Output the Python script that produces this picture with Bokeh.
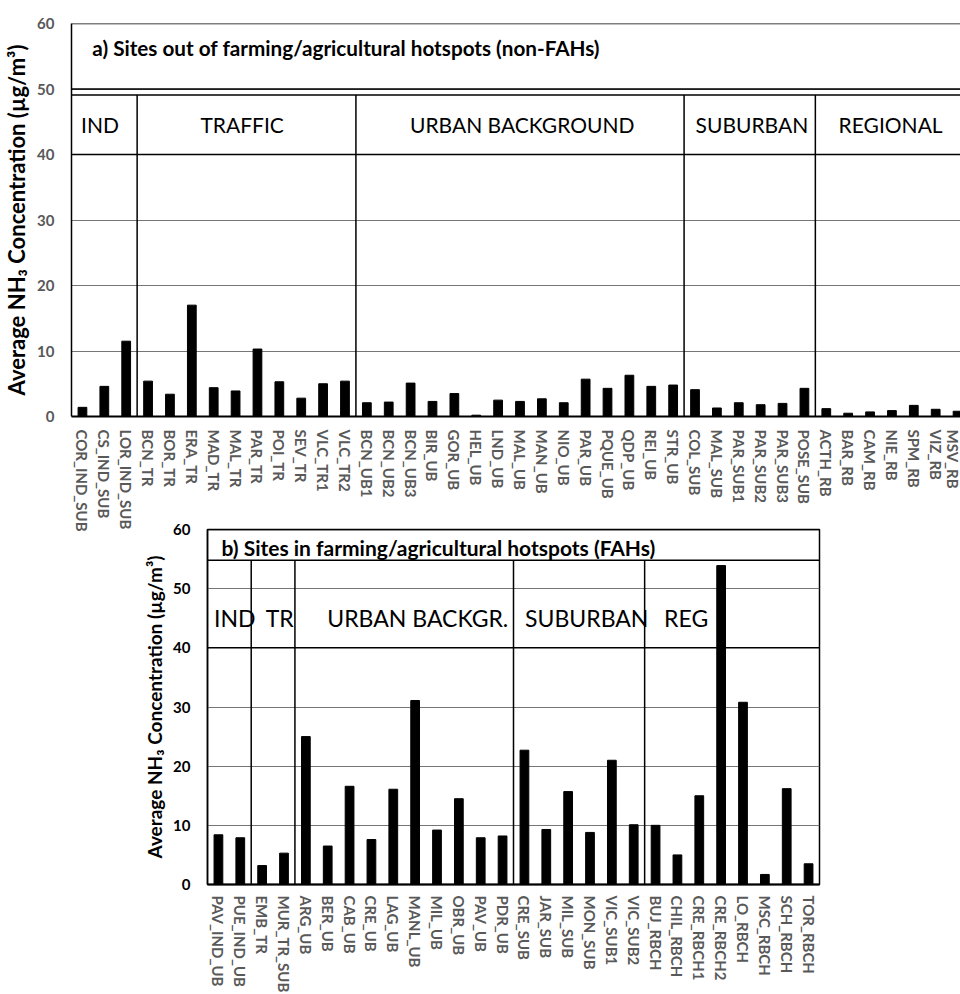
from bokeh.plotting import figure
from bokeh.models import Range1d, FixedTicker, Span, ColumnDataSource
from bokeh.core.properties import value
from bokeh.embed import file_html
from bokeh.resources import INLINE

# ---------------- data ----------------
title_a = "a) Sites out of farming/agricultural hotspots (non-FAHs)"
groups_a = ["IND", "TRAFFIC", "URBAN BACKGROUND", "SUBURBAN", "REGIONAL"]
group_sizes_a = [3, 10, 15, 6, 7]
sites_a = ["COR_IND_SUB", "CS_IND_SUB", "LOR_IND_SUB",
           "BCN_TR", "BOR_TR", "ERA_TR", "MAD_TR", "MAL_TR", "PAR_TR", "POI_TR",
           "SEV_TR", "VLC_TR1", "VLC_TR2",
           "BCN_UB1", "BCN_UB2", "BCN_UB3", "BIR_UB", "GOR_UB", "HEL_UB", "LND_UB",
           "MAL_UB", "MAN_UB", "NIO_UB", "PAR_UB", "PQUE_UB", "QDP_UB", "REI_UB", "STR_UB",
           "COL_SUB", "MAL_SUB", "PAR_SUB1", "PAR_SUB2", "PAR_SUB3", "POSE_SUB",
           "ACTH_RB", "BAR_RB", "CAM_RB", "NIE_RB", "SPM_RB", "VIZ_RB", "MSV_RB"]
values_a = [1.4, 4.6, 11.5,
            5.4, 3.4, 17.0, 4.4, 3.9, 10.3, 5.3, 2.8, 5.0, 5.4,
            2.1, 2.2, 5.1, 2.3, 3.5, 0.2, 2.5, 2.3, 2.7, 2.1, 5.7, 4.3, 6.3, 4.6, 4.8,
            4.1, 1.3, 2.1, 1.8, 2.0, 4.3,
            1.2, 0.5, 0.7, 0.9, 1.7, 1.1, 0.8]

title_b = "b) Sites in farming/agricultural hotspots (FAHs)"
groups_b = ["IND", "TR", "URBAN BACKGR.", "SUBURBAN", "REG"]
group_sizes_b = [2, 2, 10, 6, 8]
sites_b = ["PAV_IND_UB", "PUE_IND_UB",
           "EMB_TR", "MUR_TR_SUB",
           "ARG_UB", "BER_UB", "CAB_UB", "CRE_UB", "LAG_UB", "MANL_UB", "MIL_UB",
           "OBR_UB", "PAV_UB", "PDR_UB",
           "CRE_SUB", "JAR_SUB", "MIL_SUB", "MON_SUB", "VIC_SUB1", "VIC_SUB2",
           "BUJ_RBCH", "CHIL_RBCH", "CRE_RBCH1", "CRE_RBCH2", "LO_RBCH", "MSC_RBCH",
           "SCH_RBCH", "TOR_RBCH"]
values_b = [8.4, 7.9,
            3.2, 5.3,
            25.0, 6.5, 16.6, 7.6, 16.1, 31.1, 9.2, 14.5, 7.9, 8.2,
            22.7, 9.3, 15.7, 8.8, 21.0, 10.1,
            10.0, 5.0, 15.0, 53.9, 30.8, 1.7, 16.2, 3.5]

y_ticks = [0, 10, 20, 30, 40, 50, 60]
y_label = "Average NH\u2083 Concentration (\u00b5g/m\u00b3)"

FONT = "Lato"
GREY = "#595959"


def boundaries(sizes):
    out, c = [], 0
    for s in sizes:
        c += s
        out.append(c - 0.5)
    return out


def make_panel(sites, vals, sizes, groups, title, x_end, frame_w, frame_h,
               border_left, border_top, border_bottom, border_right,
               box_top, title_bottom, ytick_color, outline, cat_font, ylab_font,
               xlab_font, xlab_standoff, title_font, label_nudge, title_pos, cat_y):
    n = len(sites)
    p = figure(output_backend="svg", toolbar_location=None,
               frame_width=frame_w, frame_height=frame_h,
               x_range=Range1d(-0.5, x_end), y_range=Range1d(0, 60),
               min_border_left=border_left, min_border_top=border_top,
               min_border_bottom=border_bottom, min_border_right=border_right,
               background_fill_color="white", border_fill_color=None)
    p.outline_line_color = "black" if outline else None
    p.outline_line_width = 1.5

    src = ColumnDataSource(dict(x=list(range(n)), top=vals))
    p.vbar(x="x", top="top", width=0.4, source=src, color="black")

    # grid
    p.xgrid.grid_line_color = None
    p.ygrid.ticker = FixedTicker(ticks=[10, 20, 30, 40, 50])
    p.ygrid.grid_line_color = "#767676"
    p.ygrid.grid_line_width = 1

    # y axis
    p.yaxis.ticker = FixedTicker(ticks=y_ticks)
    p.yaxis.axis_label = y_label
    p.yaxis.axis_label_text_font = FONT
    p.yaxis.axis_label_text_font_style = "bold"
    p.yaxis.axis_label_text_font_size = ylab_font
    p.yaxis.axis_label_text_color = "black"
    p.yaxis.axis_label_standoff = 4
    p.yaxis.major_label_text_font = FONT
    p.yaxis.major_label_text_font_style = "bold"
    p.yaxis.major_label_text_font_size = "15px"
    p.yaxis.major_label_text_color = ytick_color
    p.yaxis.major_tick_line_color = None
    p.yaxis.minor_tick_line_color = None
    p.yaxis.major_tick_out = 0
    p.yaxis.major_tick_in = 0
    p.yaxis.major_label_standoff = 17
    p.yaxis.axis_line_color = "black"
    p.yaxis.axis_line_width = 1.5

    # x axis
    p.xaxis.ticker = FixedTicker(ticks=list(range(n)))
    p.xaxis.major_label_overrides = {i: s for i, s in enumerate(sites)}
    p.xaxis.major_label_orientation = "vertical"
    p.xaxis.major_label_text_font = FONT
    p.xaxis.major_label_text_font_style = "bold"
    p.xaxis.major_label_text_font_size = xlab_font
    p.xaxis.major_label_text_color = GREY
    p.xaxis.major_tick_line_color = None
    p.xaxis.minor_tick_line_color = None
    p.xaxis.major_tick_out = 0
    p.xaxis.major_tick_in = 0
    p.xaxis.major_label_standoff = xlab_standoff
    p.xaxis.axis_line_color = "black"
    p.xaxis.axis_line_width = 2

    # header boxes
    for loc in sorted(set([60, title_bottom, box_top, 40])):
        p.add_layout(Span(location=loc, dimension="width",
                          line_color="black", line_width=1.5))
    bnds = boundaries(sizes)[:-1]
    p.segment(x0=bnds, y0=[0] * len(bnds), x1=bnds, y1=[box_top] * len(bnds),
              line_color="black", line_width=1.5)

    # group labels
    starts = [-0.5] + bnds
    ends = bnds + [min(boundaries(sizes)[-1], x_end)]
    lx = [(s + e) / 2 + d for s, e, d in zip(starts, ends, label_nudge)]
    p.text(x=lx, y=[cat_y] * len(groups), text=groups,
           text_font=value(FONT), text_font_size=cat_font,
           text_align="center", text_baseline="middle", text_color="black")

    # title
    p.text(x=[title_pos[0]], y=[title_pos[1]], text=[title],
           text_font=value(FONT), text_font_style="bold", text_font_size=title_font,
           text_align="left", text_baseline="middle", text_color="black")
    return p


pa = make_panel(sites_a, values_a, group_sizes_a, groups_a, title_a,
                x_end=40.18, frame_w=890, frame_h=393,
                border_left=62, border_top=23, border_bottom=125, border_right=0,
                box_top=49.1, title_bottom=50, ytick_color=GREY, outline=False,
                cat_font="21px", ylab_font="22px", xlab_font="15px", xlab_standoff=13,
                title_font="20.7px",
                label_nudge=[-0.2, -0.2, 0.1, 0.1, 0.1],
                title_pos=(0.45, 56.2), cat_y=44.6)

pb = make_panel(sites_b, values_b, group_sizes_b, groups_b, title_b,
                x_end=27.5, frame_w=612, frame_h=355,
                border_left=207, border_top=10, border_bottom=100, border_right=10,
                box_top=54.8, title_bottom=54.8, ytick_color="black", outline=True,
                cat_font="23px", ylab_font="19px", xlab_font="15px", xlab_standoff=11,
                title_font="21px",
                label_nudge=[0.25, 0.3, 0.62, 0.35, -2.1],
                title_pos=(0.14, 57.0), cat_y=45.0)
# pull panel b up so that its frame sits right under panel a's rotated labels
pb.styles = {"margin-top": "-22px", "margin-bottom": "-24px"}

open("out.html", "w").write(file_html([pa, pb], INLINE))
